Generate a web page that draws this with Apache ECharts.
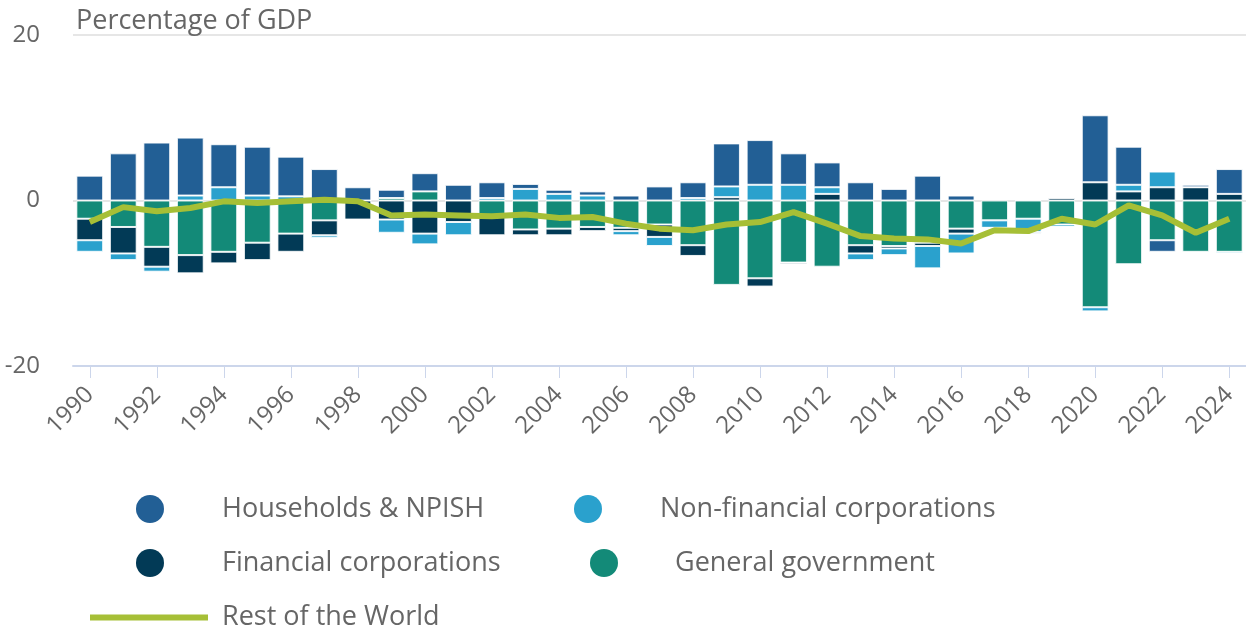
<!DOCTYPE html>
<html>
<head>
<meta charset="utf-8">
<script src="https://cdn.jsdelivr.net/npm/echarts@6/dist/echarts.min.js"></script>
<style>
  html, body { margin: 0; padding: 0; background: #fff; }
  #chart { width: 1246px; height: 630px; }
</style>
</head>
<body>
<div id="chart"></div>
<script>
// years 1990..2024
var years = [];
for (var y = 1990; y <= 2024; y++) years.push(String(y));

// percentage of GDP
var households = [3.0, 5.7, 7.0, 7.0, 5.2, 5.9, 4.8, 3.8, 1.6, 1.0,
  2.2, 1.9, 1.9, 0.6, 0.5, 0.5, 0.6, 1.7, 1.9, 5.2,
  5.4, 3.8, 3.0, 2.2, 1.4, 3.0, 0.6, 0, -0.2, 0,
  8.1, 4.6, -1.4, 0.3, 3.0];
var nonFinancial = [-1.4, -0.8, -0.6, 0.6, 1.6, 0.6, 0.5, -0.3, 0, -1.6,
  -1.3, -1.6, 0.3, 1.4, 0.8, 0.6, -0.5, -1.1, 0.3, 1.3,
  1.9, 1.9, 0.8, -0.8, -0.8, -2.7, -2.4, -0.9, -1.6, -0.3,
  -0.5, 0.8, 1.9, 0, -0.2];
var financial = [-2.6, -3.2, -2.4, -2.2, -1.4, -2.1, -2.2, -1.8, -2.3, -2.3,
  -4.0, -2.6, -2.4, -0.7, -0.8, -0.5, -0.4, -1.5, -1.3, 0.4,
  -1.0, -0.2, 0.8, -1.0, -0.3, -0.4, -0.6, 0, 0.1, 0.3,
  2.2, 1.1, 1.6, 1.6, 0.8];
var government = [-2.2, -3.2, -5.6, -6.6, -6.2, -5.1, -4.0, -2.4, 0, 0.3,
  1.1, 0, -1.8, -3.5, -3.4, -3.2, -3.3, -2.9, -5.4, -10.2,
  -9.4, -7.5, -8.0, -5.4, -5.5, -5.1, -3.4, -2.4, -2.2, -2.9,
  -12.9, -7.7, -4.8, -6.2, -6.2];
var restOfWorld = [-2.6, -0.8, -1.3, -0.9, -0.1, -0.3, -0.1, 0.1, -0.1, -1.8,
  -1.7, -1.8, -1.9, -1.7, -2.1, -2.0, -2.8, -3.4, -3.6, -2.9,
  -2.6, -1.4, -2.8, -4.3, -4.6, -4.7, -5.2, -3.6, -3.7, -2.2,
  -2.9, -0.6, -1.8, -3.9, -2.2];

var font = "'Open Sans', 'Noto Sans', sans-serif";
var grey = '#666666';

var chart = echarts.init(document.getElementById('chart'), null, { renderer: 'canvas' });

function barSeries(name, data, color) {
  return {
    name: name,
    type: 'bar',
    stack: 'sectors',
    data: data,
    barCategoryGap: '20%',
    itemStyle: { color: color, borderColor: 'rgba(255,255,255,0.85)', borderWidth: 1 },
    emphasis: { disabled: true }
  };
}

function circleLegend(name, left, top, pad) {
  return {
    data: [{ name: name, icon: 'circle' }],
    left: left,
    top: top,
    padding: 0,
    itemWidth: 28,
    itemHeight: 28,
    itemStyle: { borderWidth: 0 },
    selectedMode: false,
    textStyle: { color: grey, fontSize: 27, fontFamily: font, padding: [0, 0, 0, pad] }
  };
}

var option = {
  animation: false,
  title: {
    text: 'Percentage of GDP',
    left: 76,
    top: 8,
    padding: 0,
    textStyle: { color: grey, fontSize: 27, fontWeight: 'normal', fontFamily: font }
  },
  legend: [
    circleLegend('Households & NPISH', 136, 495, 53),
    circleLegend('Non-financial corporations', 574, 495, 53),
    circleLegend('Financial corporations', 136, 549, 53),
    circleLegend('General government', 590, 549, 52),
    {
      data: [{ name: 'Rest of the World', icon: 'rect' }],
      left: 90,
      top: 604,
      padding: 0,
      itemWidth: 118,
      itemHeight: 6,
      selectedMode: false,
      textStyle: { color: grey, fontSize: 27, fontFamily: font, padding: [0, 0, 0, 9] }
    }
  ],
  grid: { left: 73, top: 35, width: 1176, bottom: 264, containLabel: false },
  xAxis: {
    type: 'category',
    data: years,
    boundaryGap: true,
    axisLine: { show: true, onZero: false, lineStyle: { color: '#ccd6eb', width: 2 } },
    axisTick: { show: true, alignWithLabel: true, interval: 1, length: 12, lineStyle: { color: '#ccd6eb', width: 1 } },
    axisLabel: { interval: 1, rotate: 45, margin: 25, color: grey, fontSize: 24, fontFamily: font },
    splitLine: { show: false }
  },
  yAxis: {
    type: 'value',
    min: -20,
    max: 20,
    interval: 20,
    axisLine: { show: false },
    axisTick: { show: false },
    axisLabel: { color: grey, fontSize: 24, fontFamily: font, margin: 33 },
    splitLine: { show: true, lineStyle: { color: '#e6e6e6', width: 2 } }
  },
  series: [
    barSeries('General government', government, '#138a78'),
    barSeries('Financial corporations', financial, '#023a56'),
    barSeries('Non-financial corporations', nonFinancial, '#2aa1cd'),
    barSeries('Households & NPISH', households, '#225f95'),
    {
      name: 'Rest of the World',
      type: 'line',
      data: restOfWorld,
      symbol: 'none',
      z: 5,
      lineStyle: { color: '#a6bf36', width: 6 },
      itemStyle: { color: '#a6bf36' },
      emphasis: { disabled: true }
    }
  ]
};

chart.setOption(option);
</script>
</body>
</html>
